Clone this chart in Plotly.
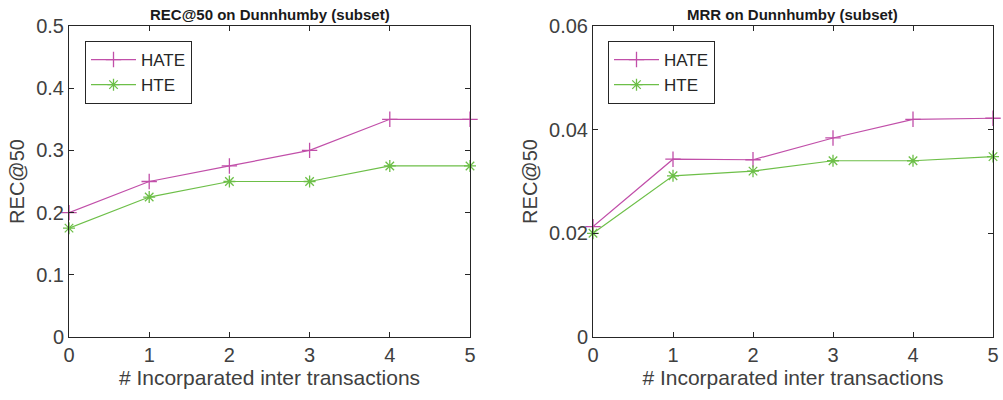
import plotly.graph_objects as go

x_vals = [0, 1, 2, 3, 4, 5]
rec_hate = [0.200, 0.250, 0.275, 0.300, 0.350, 0.350]
rec_hte = [0.175, 0.225, 0.250, 0.250, 0.275, 0.275]
mrr_hate = [0.0213, 0.0343, 0.0342, 0.0384, 0.0420, 0.0422]
mrr_hte = [0.0200, 0.0311, 0.0320, 0.0340, 0.0340, 0.0348]

titles = ["REC@50 on Dunnhumby (subset)", "MRR on Dunnhumby (subset)"]
xlabel = "# Incorparated inter transactions"
ylabel = "REC@50"
series_names = ["HATE", "HTE"]

c_hate = "#C14FA9"
c_hte = "#6DBF48"
font = "Liberation Sans, Arial, sans-serif"

fig = go.Figure()

def add(xa, ya, leg, hate, hte):
    fig.add_trace(go.Scatter(x=x_vals, y=hate, name=series_names[0], mode="lines+markers",
                             line=dict(color=c_hate, width=1.2),
                             marker=dict(symbol="cross-thin-open", size=11, line=dict(color=c_hate, width=1.3)),
                             xaxis=xa, yaxis=ya, legend=leg, cliponaxis=False))
    fig.add_trace(go.Scatter(x=x_vals, y=hte, name=series_names[1], mode="lines+markers",
                             line=dict(color=c_hte, width=1.2),
                             marker=dict(symbol="asterisk-open", size=10, line=dict(color=c_hte, width=1.3)),
                             xaxis=xa, yaxis=ya, legend=leg, cliponaxis=False))

add("x", "y", "legend", rec_hate, rec_hte)
add("x2", "y2", "legend2", mrr_hate, mrr_hte)

axis_common = dict(showgrid=False, zeroline=False, showline=True, linecolor="#262626", linewidth=1,
                   mirror="ticks", ticks="inside", ticklen=5, tickcolor="#262626", automargin=False,
                   tickfont=dict(family=font, size=20, color="#404040"))

xdom1 = [69 / 1003, 470 / 1003]
xdom2 = [593 / 1003, 993 / 1003]
ydom = [1 - 337 / 400, 1 - 26 / 400]

xt_font = dict(size=21, color="#404040")
yt_font = dict(size=20, color="#404040")

fig.update_layout(
    width=1003, height=400, margin=dict(l=0, r=0, t=0, b=0),
    paper_bgcolor="white", plot_bgcolor="white",
    font=dict(family=font),
    xaxis=dict(domain=xdom1, range=[0, 5], tickvals=x_vals, anchor="y",
               title=dict(text=xlabel, font=xt_font, standoff=4), **axis_common),
    yaxis=dict(domain=ydom, range=[0, 0.5], dtick=0.1, tickformat="~g", anchor="x",
               title=dict(text=ylabel, font=yt_font, standoff=6), **axis_common),
    xaxis2=dict(domain=xdom2, range=[0, 5], tickvals=x_vals, anchor="y2",
                title=dict(text=xlabel, font=xt_font, standoff=4), **axis_common),
    yaxis2=dict(domain=ydom, range=[0, 0.06], tickvals=[0, 0.02, 0.04, 0.06],
                ticktext=["0", "0.02", "0.04", "0.06"], anchor="x2",
                title=dict(text=ylabel, font=yt_font, standoff=6), **axis_common),
    legend=dict(x=85 / 1003, y=1 - 41 / 400, xanchor="left", yanchor="top", bgcolor="white",
                bordercolor="#262626", borderwidth=1, font=dict(size=17, color="#262626"),
                tracegroupgap=0, itemwidth=45),
    legend2=dict(x=608 / 1003, y=1 - 41 / 400, xanchor="left", yanchor="top", bgcolor="white",
                 bordercolor="#262626", borderwidth=1, font=dict(size=17, color="#262626"),
                 tracegroupgap=0, itemwidth=45),
    annotations=[
        dict(text="<b>" + titles[0] + "</b>", x=(xdom1[0] + xdom1[1]) / 2, y=1 - 14 / 400,
             xref="paper", yref="paper", xanchor="center", yanchor="middle", showarrow=False,
             font=dict(size=15, color="#1a1a1a")),
        dict(text="<b>" + titles[1] + "</b>", x=(xdom2[0] + xdom2[1]) / 2, y=1 - 14 / 400,
             xref="paper", yref="paper", xanchor="center", yanchor="middle", showarrow=False,
             font=dict(size=15, color="#1a1a1a")),
    ],
)

fig.write_html("out.html")
